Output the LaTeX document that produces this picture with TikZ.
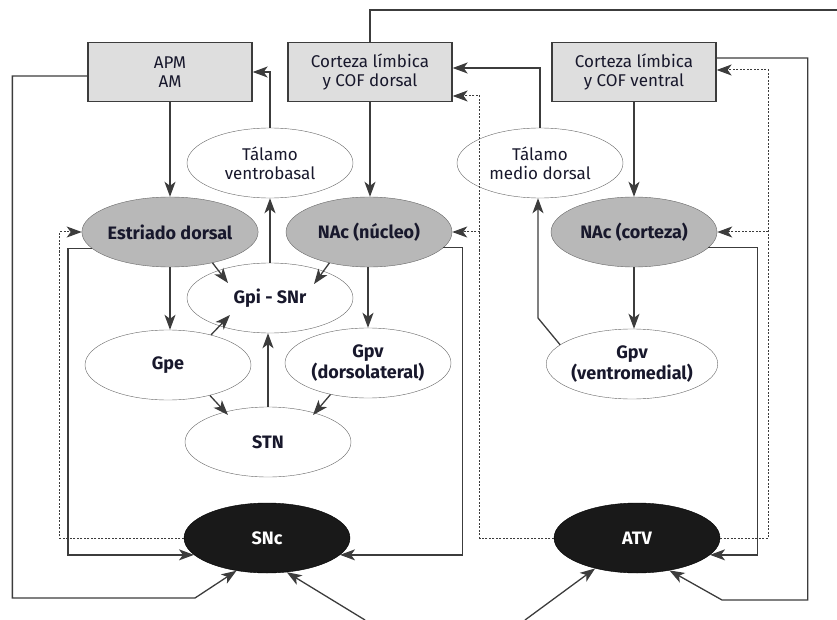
\documentclass[tikz,border=0pt]{standalone}
\usepackage{fontspec}
\setmainfont{Fira Sans}
\usetikzlibrary{shapes.geometric,arrows.meta,calc}
\definecolor{labelblue}{RGB}{24,24,44}
\definecolor{linegray}{RGB}{60,60,60}

\begin{document}
\begin{tikzpicture}[x=1pt, y=-1pt, font=\fontsize{17}{19}\selectfont,
box/.style={draw=linegray, fill=black!13, line width=1.3pt, minimum width=164pt, minimum height=59pt, inner sep=0pt, align=center, text=labelblue},
nucleus/.style={ellipse, draw=black!60, fill=white, minimum width=166pt, minimum height=70pt, inner sep=0pt, align=center, text=labelblue},
striatum/.style={nucleus, fill=black!28, font=\fontsize{18}{17}\selectfont\bfseries},
relay/.style={nucleus, font=\fontsize{18}{17}\selectfont\bfseries},
dopa/.style={nucleus, draw=black, fill=black!90, text=white, font=\fontsize{18}{17}\selectfont\bfseries},
conn/.style={-{Stealth[length=15pt,width=11pt,inset=4pt]}, draw=linegray, line width=1.3pt},
fb/.style={draw=linegray, line width=1.3pt},
fb dashed/.style={conn, line width=1pt, dash pattern=on 2pt off 1.5pt}]

\useasboundingbox (0,0) rectangle (837,620);

% cortex and thalamus
\node[box] (apm) at (170,72) {APM\\AM};
\node[box] (cortd) at (370,72) {Corteza límbica\\y COF dorsal};
\node[box] (cortv) at (634,72) {Corteza límbica\\y COF ventral};
\node[nucleus] (tvb) at (270,163) {Tálamo\\ventrobasal};
\node[nucleus] (tmd) at (540,163) {Tálamo\\medio dorsal};

% basal ganglia
\node[striatum] (estr) at (170,232) {Estriado dorsal};
\node[striatum] (nacn) at (369,232) {NAc (núcleo)};
\node[striatum] (nacc) at (634,232) {NAc (corteza)};
\node[relay] (gpi) at (270,298) {Gpi - SNr};
\node[relay] (gpe) at (168,365) {Gpe};
\node[relay] (gpvd) at (368,363) {Gpv\\(dorsolateral)};
\node[relay] (gpvv) at (632,364) {Gpv\\(ventromedial)};
\node[relay] (stn) at (268,442) {STN};
\node[dopa] (snc) at (267,538) {SNc};
\node[dopa] (atv) at (637,538) {ATV};

% loose ends
\coordinate (offright) at (837,10);
\coordinate (inleft) at (365,620);
\coordinate (inright) at (525,620);

% descending pathways
\draw[conn] (apm) -- (estr);
\draw[conn] (cortd.south) -- (cortd.south |- nacn.north);
\draw[conn] (cortv) -- (nacc);
\draw[conn] (estr.south) -- (estr.south |- gpe.north);
\draw[conn] (gpvd.north |- nacn.south) -- (gpvd.north);
\draw[conn] (nacc.south) -- (nacc.south |- gpvv.north);
\draw[conn] (estr.-36) -- ($(gpi)+(-42,-15)$);
\draw[conn] (nacn.-142) -- ($(gpi)+(44,-14)$);
\draw[conn] (gpe.35) -- ($(gpi)+(-40,17)$);
\draw[conn] (gpe.-36) -- ($(stn)+(-40,-27)$);
\draw[conn] (gpvd.-140) -- ($(stn)+(45,-27)$);
\draw[conn] (stn.north) -- (stn.north |- gpi.south);

% ascending pathways
\draw[conn] (gpi) -- (tvb);
\draw[conn] (tvb.north) |- (apm.east);
\draw[conn] (tmd.north) |- ([yshift=4pt]cortd.east);
\draw[conn] (gpvv.165) -- (538,318) -- (538,318 |- tmd.south);

% loops through SNc
\draw[conn] (estr.192) -- ++(-24,0) |- (snc.193);
\draw[fb dashed] (snc.west) -- ++(-124,0) |- (estr.west);
\draw[conn] ([yshift=-4pt]apm.west) -- ++(-75,0) |- (195,598) -- (snc.227);
\draw[conn] (nacn.-12) -- ++(19,0) |- (snc.-13);
\draw[conn] (inleft) -- (snc.-60);

% loops through ATV
\draw[fb dashed] (atv.west) -- ++(-74,0) coordinate (dleft) |- ([yshift=-24pt]cortd.east);
\draw[fb dashed] (dleft |- nacn.east) -- (nacn.east);
\draw[fb dashed] (atv.east) -- ++(48,0) coordinate (dright) |- ([yshift=2pt]cortv.east);
\draw[fb dashed] (dright |- nacc.east) -- (nacc.east);
\draw[conn] (nacc.-12) -- ++(49,0) |- (atv.-13);
\draw[conn] ([yshift=14pt]cortv.east) -- ++(91,0) |- (722,600) -- (atv.-45);
\draw[conn] (inright) -- (atv.216);
\draw[fb] (cortd.north) |- (offright);

\end{tikzpicture}
\end{document}
